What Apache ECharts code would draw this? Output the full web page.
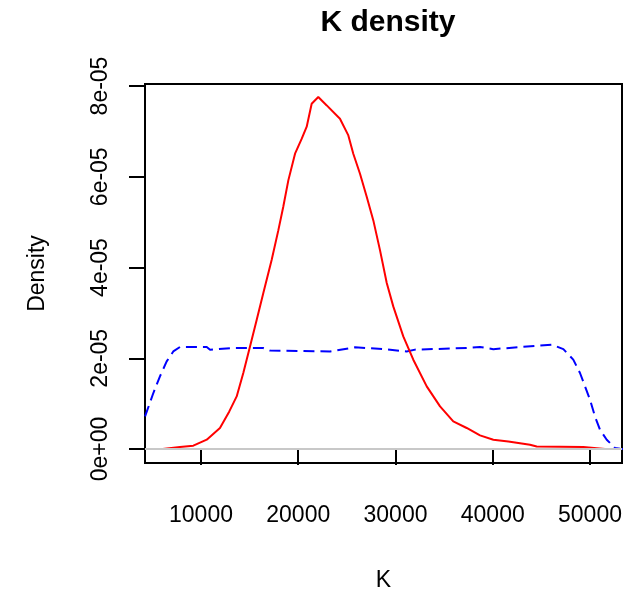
<!DOCTYPE html>
<html>
<head>
<meta charset="utf-8">
<script src="https://cdn.jsdelivr.net/npm/echarts@6/dist/echarts.min.js"></script>
<style>html,body{margin:0;padding:0;background:#fff}#c{width:626px;height:591px}</style>
</head>
<body>
<div id="c"></div>
<script>
// Red density (K vs density)
const redK = [6060, 7840, 9210, 10590, 11950, 12910, 13670, 14350, 15040, 15730, 16410, 17270, 17950, 18460, 18980, 19670, 20360, 20870, 21380, 22060, 22930, 24290, 25150, 25660, 26350, 27040, 27720, 28410, 29100, 29770, 30800, 31830, 33210, 34580, 35940, 37320, 38690, 40060, 41600, 43830, 44520, 49310, 49490, 51540];
const redD = [0, 0.044e-5, 0.073e-5, 0.205e-5, 0.463e-5, 0.829e-5, 1.159e-5, 1.675e-5, 2.261e-5, 2.85e-5, 3.438e-5, 4.172e-5, 4.818e-5, 5.34e-5, 5.92e-5, 6.508e-5, 6.839e-5, 7.103e-5, 7.61e-5, 7.758e-5, 7.572e-5, 7.279e-5, 6.911e-5, 6.508e-5, 6.067e-5, 5.56e-5, 5.038e-5, 4.377e-5, 3.658e-5, 3.143e-5, 2.482e-5, 1.968e-5, 1.38e-5, 0.939e-5, 0.608e-5, 0.463e-5, 0.3e-5, 0.205e-5, 0.167e-5, 0.095e-5, 0.057e-5, 0.044e-5, 0.007e-5, 0];
// Blue dashed density
const blueK = [4250, 4410, 5100, 5780, 6470, 7150, 7840, 10590, 10930, 13290, 16380, 17100, 23270, 25840, 28920, 31150, 32000, 37320, 38690, 40060, 46060, 47260, 48280, 48970, 49490, 50000, 50510, 51030, 51720, 52570, 53090, 53500];
const blueD = [0.72e-5, 0.756e-5, 1.234e-5, 1.6e-5, 1.93e-5, 2.15e-5, 2.248e-5, 2.248e-5, 2.188e-5, 2.226e-5, 2.226e-5, 2.17e-5, 2.15e-5, 2.24e-5, 2.2e-5, 2.15e-5, 2.19e-5, 2.226e-5, 2.248e-5, 2.2e-5, 2.3e-5, 2.2e-5, 1.97e-5, 1.675e-5, 1.38e-5, 1.086e-5, 0.718e-5, 0.425e-5, 0.205e-5, 0.022e-5, 0.007e-5, 0];
// Tick labels
const xTickValues = [10000, 20000, 30000, 40000, 50000];
const xTickLabels = ['10000', '20000', '30000', '40000', '50000'];
const yTickValues = [0, 2e-5, 4e-5, 6e-5, 8e-5];
const yTickLabels = ['0e+00', '2e-05', '4e-05', '6e-05', '8e-05'];

const FONT = "'Liberation Sans', Arial, sans-serif";
const chart = echarts.init(document.getElementById('c'), null, {renderer: 'canvas'});

function nearestLabel(vals, labels, v) {
  let best = 0, bd = Infinity;
  vals.forEach((t, i) => { const d = Math.abs(t - v); if (d < bd) { bd = d; best = i; } });
  return labels[best];
}

chart.setOption({
  animation: false,
  backgroundColor: '#fff',
  title: {
    text: 'K density',
    left: 383, top: 3, textAlign: 'center',
    textStyle: {fontFamily: FONT, fontSize: 30, fontWeight: 'bold', color: '#000'}
  },
  grid: {
    left: 145, top: 84, right: 4, bottom: 128,
    outerBoundsMode: 'none', containLabel: false,
    show: true, borderColor: '#000', borderWidth: 2, backgroundColor: 'transparent'
  },
  xAxis: {
    type: 'value', min: 4242, max: 53290,
    name: 'K', nameLocation: 'middle', nameGap: 106,
    nameTextStyle: {fontFamily: FONT, fontSize: 23, color: '#000'},
    axisLine: {show: false},
    splitLine: {show: false},
    axisTick: {show: true, length: 16, customValues: xTickValues, lineStyle: {color: '#000', width: 2}},
    axisLabel: {
      customValues: xTickValues, margin: 41,
      fontFamily: FONT, fontSize: 23, color: '#000',
      formatter: v => nearestLabel(xTickValues, xTickLabels, v)
    }
  },
  yAxis: {
    type: 'value', min: -0.3085e-5, max: 8.044e-5,
    name: 'Density', nameLocation: 'middle', nameGap: 96, nameRotate: 90,
    nameTextStyle: {fontFamily: FONT, fontSize: 23, color: '#000'},
    axisLine: {show: false},
    splitLine: {show: false},
    axisTick: {show: true, length: 16, customValues: yTickValues, lineStyle: {color: '#000', width: 2}},
    axisLabel: {
      customValues: yTickValues, margin: 33, rotate: 90,
      fontFamily: FONT, fontSize: 23, color: '#000',
      formatter: v => nearestLabel(yTickValues, yTickLabels, v)
    }
  },
  series: [
    {
      type: 'line', data: [], z: 1, silent: true,
      markLine: {
        silent: true, symbol: 'none', animation: false,
        label: {show: false},
        lineStyle: {color: '#c8c8c8', width: 2, type: 'solid'},
        data: [{yAxis: 0}]
      }
    },
    {
      type: 'line', z: 3, showSymbol: false, symbol: 'none', smooth: false, clip: true,
      data: redK.map((k, i) => [k, redD[i]]),
      lineStyle: {color: '#ff0000', width: 2}
    },
    {
      type: 'line', z: 2, showSymbol: false, symbol: 'none', smooth: false, clip: true,
      data: blueK.map((k, i) => [k, blueD[i]]),
      lineStyle: {color: '#0000ff', width: 2, type: [11, 6]}
    }
  ]
});
</script>
</body>
</html>
